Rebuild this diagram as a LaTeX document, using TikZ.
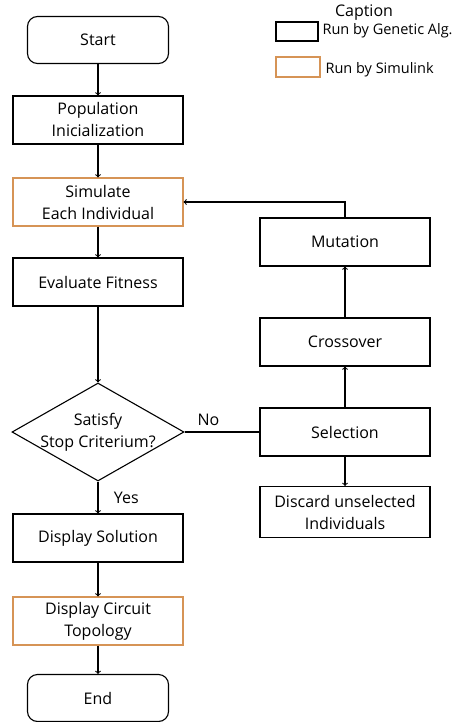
\documentclass[tikz,border=0pt]{standalone}
\usepackage{fontspec}
\setmainfont{Open Sans}
\usepackage{tikz}
\usetikzlibrary{shapes.geometric}

\definecolor{simorange}{RGB}{214,148,86}

\begin{document}
\begin{tikzpicture}[x=1pt,y=-1pt,line width=1.1pt,
    txt/.style={font=\fontsize{16}{22}\selectfont,align=center},
    gabox/.style={txt,draw,minimum width=170pt,minimum height=48pt,inner sep=2pt},
    simbox/.style={gabox,draw=simorange},
    term/.style={gabox,rounded corners=10pt,minimum width=141pt,minimum height=47pt},
    decide/.style={draw,diamond,inner sep=0pt,minimum width=172pt,minimum height=98pt},
    legend/.style={font=\fontsize{14.5}{17}\selectfont,anchor=west,inner sep=0pt}]
    \useasboundingbox (0,0) rectangle (458,722);

    % Main column
    \node[term]   (start) at (98,40)  {Start};
    \node[gabox]  (pop)   at (98,120) {Population\\Inicialization};
    \node[simbox] (sim)   at (98,202) {Simulate\\Each Individual};
    \node[gabox]  (eval)  at (98,282) {Evaluate Fitness};
    \node[decide,label={[txt]center:Satisfy\\Stop Criterium?}] (stop) at (98,432) {};
    \node[gabox]  (disp)  at (98,538) {Display Solution};
    \node[simbox] (topo)  at (98,621) {Display Circuit\\Topology};
    \node[term]   (end)   at (98,698) {End};

    % Loop column
    \node[gabox] (mut)   at (345,242) {Mutation};
    \node[gabox] (cross) at (345,342) {Crossover};
    \node[gabox] (sel)   at (345,432) {Selection};
    \node[gabox,minimum height=51pt] (disc) at (345,512) {Discard unselected\\Individuals};

    % Arrows
    \draw[->] (start) -- (pop);
    \draw[->] (pop) -- (sim);
    \draw[->] (sim) -- (eval);
    \draw[->] (eval) -- (stop);
    \draw[->] (stop) -- node[txt,right,xshift=12pt] {Yes} (disp);
    \draw[->] (disp) -- (topo);
    \draw[->] (topo) -- (end);
    \draw (stop.east) -- node[txt,above,pos=0.32,yshift=2pt] {No} (sel.west);
    \draw[->] (sel) -- (cross);
    \draw[->] (cross) -- (mut);
    \draw[->] (sel) -- (disc);
    \draw[->] (mut.north) |- (sim.east);

    % Caption
    \node[font=\fontsize{16}{18}\selectfont] (cap) at (364,13) {Caption};
    \node[draw,line width=1.1pt,minimum width=42pt,minimum height=19pt,inner sep=0pt] (gakey) at (297,31.5) {};
    \node[legend] (galbl) at (322,31) {Run by Genetic Alg.};
    \node[draw=simorange,line width=1.1pt,minimum width=44pt,minimum height=20pt,inner sep=0pt] (simkey) at (298,67) {};
    \node[legend] (simlbl) at (325,70) {Run by Simulink};
\end{tikzpicture}
\end{document}
